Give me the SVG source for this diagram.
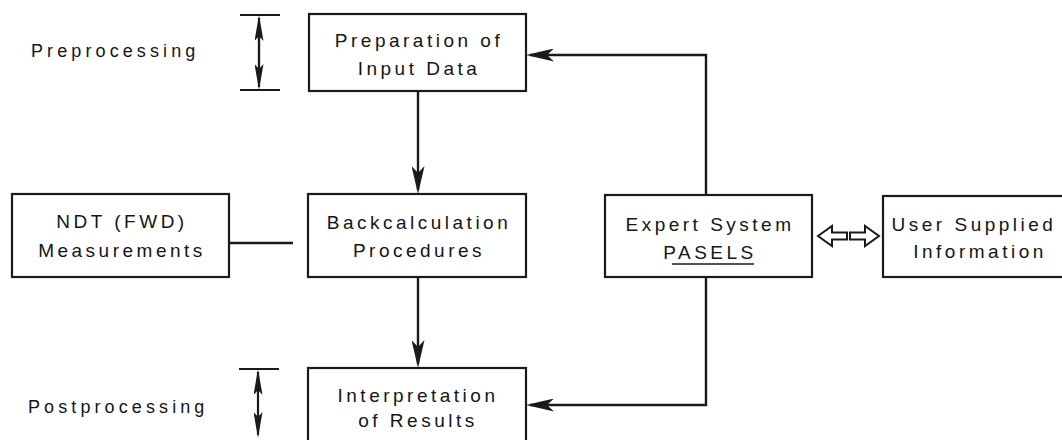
<svg xmlns="http://www.w3.org/2000/svg" width="1062" height="440" viewBox="0 0 1062 440">
<style>
.box{fill:#fff;stroke:#1a1a1a;stroke-width:2.2}
.t{font-family:"Liberation Sans",Arial,sans-serif;font-size:19px;letter-spacing:3.5px;fill:#151515;text-anchor:middle}
.lab{font-family:"Liberation Sans",Arial,sans-serif;font-size:18px;letter-spacing:4.1px;fill:#151515}
.c{fill:none;stroke:#1a1a1a;stroke-width:2.4}
.br{fill:none;stroke:#1a1a1a;stroke-width:2.2}
.ha{fill:#fff;stroke:#1a1a1a;stroke-width:2;stroke-linejoin:miter}
</style>
<defs>
<marker id="arr" markerUnits="userSpaceOnUse" viewBox="0 0 28 13" markerWidth="28" markerHeight="13" refX="24" refY="6.5" orient="auto">
<path d="M28,6.5 L0,0 L7,6.5 L0,13 Z" fill="#1a1a1a"/>
</marker>
<marker id="barr" markerUnits="userSpaceOnUse" viewBox="0 0 26 9" markerWidth="26" markerHeight="9" refX="23" refY="4.5" orient="auto">
<path d="M26,4.5 L0,0 L5,4.5 L0,9 Z" fill="#1a1a1a"/>
</marker>
</defs>

<g id="bracket-pre">
<path class="br" d="M240,15 H280 M240,90 H280"/>
<path class="br" d="M259,30 V75"/>
<path class="br" d="M259,55 V18" marker-end="url(#barr)"/>
<path class="br" d="M259,55 V87" marker-end="url(#barr)"/>
<text class="lab" x="31" y="57">Preprocessing</text>
</g>

<g id="bracket-post">
<path class="br" d="M239,369 H279"/>
<path class="br" d="M258,400 V372" marker-end="url(#barr)"/>
<path class="br" d="M258,400 V435" marker-end="url(#barr)"/>
<text class="lab" x="28" y="413">Postprocessing</text>
</g>

<g id="prep">
<rect class="box" x="309" y="14" width="217" height="77"/>
<text class="t" x="419" y="47">Preparation of</text>
<text class="t" x="419" y="75">Input Data</text>
</g>

<g id="ndt">
<rect class="box" x="12" y="194" width="217" height="83"/>
<text class="t" x="122" y="228">NDT (FWD)</text>
<text class="t" x="122" y="257">Measurements</text>
</g>

<g id="backcalc">
<rect class="box" x="308" y="194" width="218" height="83"/>
<text class="t" x="419" y="229">Backcalculation</text>
<text class="t" x="419" y="257">Procedures</text>
</g>

<g id="expert">
<rect class="box" x="605" y="195" width="207" height="82"/>
<text class="t" x="710" y="231">Expert System</text>
<text class="t" x="710" y="259">PASELS</text>
<line x1="672" y1="264" x2="754" y2="264" stroke="#1a1a1a" stroke-width="1.6"/>
</g>

<g id="user">
<rect class="box" x="883" y="196" width="200" height="81"/>
<text class="t" x="974" y="231">User Supplied</text>
<text class="t" x="980" y="258">Information</text>
</g>

<g id="interp">
<rect class="box" x="308" y="368" width="218" height="90"/>
<text class="t" x="418" y="402">Interpretation</text>
<text class="t" x="418" y="427">of Results</text>
</g>

<g id="connectors">
<path class="c" d="M418,91 V190" marker-end="url(#arr)"/>
<path class="c" d="M418,277 V364" marker-end="url(#arr)"/>
<path class="c" d="M229,243 H293"/>
<path class="c" d="M706,195 V55 H530" marker-end="url(#arr)"/>
<path class="c" d="M706,277 V405 H530" marker-end="url(#arr)"/>
<polygon class="ha" points="818,236 832,226 832,232.5 847,232.5 847,239.5 832,239.5 832,246"/>
<polygon class="ha" points="879,236 865,226 865,232.5 850,232.5 850,239.5 865,239.5 865,246"/>
</g>
</svg>
